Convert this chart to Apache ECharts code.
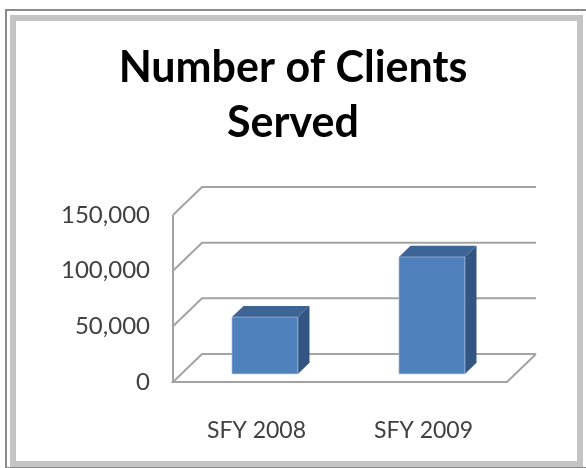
<!DOCTYPE html>
<html>
<head>
<meta charset="utf-8">
<script src="https://cdn.jsdelivr.net/npm/echarts@6/dist/echarts.min.js"></script>
<style>
  html, body { margin: 0; padding: 0; background: #fff; }
  #main { width: 586px; height: 468px; }
</style>
</head>
<body>
<div id="main"></div>
<script>
// 数据
var categories = ['SFY 2008', 'SFY 2009'];
var clients = [51000, 105000];
var yTicks = [0, 50000, 100000, 150000];

(function() {
  var chartDom = document.getElementById('main');
  var myChart = echarts.init(chartDom);
  var option;

  // depth of the fake 3d box (px)
  var DX = 29, DY = -28;
  var WALL = '#a3a3a3';

  function wallItem(params, api) {
    var cs = params.coordSys;
    var v = yTicks[params.dataIndex];
    var y = api.coord([0, v])[1];
    var x0 = cs.x, x1 = cs.x + cs.width;
    var pts;
    if (v === 0) {
      pts = [[x0 + DX + cs.width, y + DY], [x1, y], [x0, y], [x0 + DX, y + DY], [x1 + DX, y + DY]];
    } else {
      pts = [[x0, y], [x0 + DX, y + DY], [x1 + DX, y + DY]];
    }
    var children = [{
      type: 'polyline',
      shape: { points: pts },
      style: { stroke: WALL, lineWidth: 2, fill: null }
    }];
    if (params.dataIndex === yTicks.length - 1) {
      children.push({
        type: 'line',
        shape: { x1: x0, y1: api.coord([0, 0])[1], x2: x0, y2: y },
        style: { stroke: WALL, lineWidth: 2 }
      });
    }
    return { type: 'group', children: children };
  }

  function barItem(params, api) {
    var idx = api.value(0);
    var base = api.coord([idx, 0]);
    var top = api.coord([idx, api.value(1)]);
    var band = api.size([1, 0])[0];
    var w = band * 0.395;
    var ox = DX * 0.29, oy = DY * 0.29;
    var bx = DX * 0.4, by = DY * 0.4;
    var l = base[0] - w / 2 + ox, r = l + w;
    var t = top[1] + oy, b = base[1] + oy;
    return {
      type: 'group',
      children: [
        {
          type: 'polygon',
          shape: { points: [[l, t], [r, t], [r + bx, t + by], [l + bx, t + by]] },
          style: { fill: '#3c6494' }
        },
        {
          type: 'polygon',
          shape: { points: [[r, t], [r + bx, t + by], [r + bx, b + by], [r, b]] },
          style: { fill: '#325582' }
        },
        {
          type: 'rect',
          shape: { x: l, y: t, width: w, height: b - t },
          style: { fill: '#4f81bd', stroke: '#b8cce4', lineWidth: 0.6 }
        }
      ]
    };
  }

  option = {
    backgroundColor: '#fff',
    animation: false,
    title: {
      text: 'Number of Clients\nServed',
      left: 'center',
      top: 36,
      textStyle: {
        fontFamily: 'Lato',
        fontSize: 43,
        fontWeight: 'bold',
        color: '#000',
        lineHeight: 55
      }
    },
    graphic: [
      {
        type: 'rect',
        shape: { x: 6, y: 10, width: 600, height: 458 },
        style: { fill: null, stroke: '#8a8a8a', lineWidth: 2 },
        silent: true
      },
      {
        type: 'rect',
        shape: { x: 13, y: 18, width: 567, height: 446 },
        style: { fill: null, stroke: '#c4c4c4', lineWidth: 6 },
        silent: true
      }
    ],
    grid: {
      left: 173,
      top: 215,
      width: 334,
      height: 167
    },
    xAxis: {
      type: 'category',
      data: categories,
      axisLine: { show: false },
      axisTick: { show: false },
      axisLabel: {
        margin: 37,
        fontFamily: 'Lato',
        fontSize: 23,
        color: '#404040'
      }
    },
    yAxis: {
      type: 'value',
      min: 0,
      max: 150000,
      interval: 50000,
      splitLine: { show: false },
      axisLine: { show: false },
      axisTick: { show: false },
      axisLabel: {
        margin: 23,
        fontFamily: 'Lato',
        fontSize: 24,
        color: '#404040',
        padding: [6, 0, 0, 0],
        formatter: function(v) {
          return String(v).replace(/\B(?=(\d{3})+(?!\d))/g, ',');
        }
      }
    },
    series: [
      {
        type: 'custom',
        renderItem: wallItem,
        data: yTicks.map(function(v, i) { return [0, v]; }),
        z: 1,
        silent: true
      },
      {
        type: 'custom',
        renderItem: barItem,
        data: clients.map(function(v, i) { return [i, v]; }),
        z: 2
      }
    ]
  };

  option && myChart.setOption(option);
})();
</script>
</body>
</html>
